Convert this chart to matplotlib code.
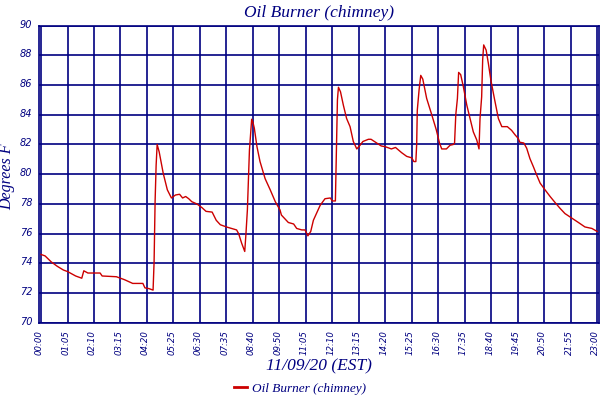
import matplotlib
matplotlib.use("Agg")
import matplotlib.pyplot as plt
import matplotlib.transforms as mtransforms
import numpy as np

NAVY = "#000080"
RED = "#cc0000"

# sample position (5 min samples) and temperature in degrees F
sample_pos = [
    0, 2, 5, 8, 11, 13, 17, 20, 21, 23, 29, 30, 37, 39, 41, 45, 50, 51, 53, 55,
    55.5, 56, 56.5, 57, 58, 60, 62, 64, 66, 68, 69.5, 71, 72.5, 74, 76.5, 79,
    81, 84, 86, 88, 91, 96, 97, 98.5, 100, 100.6, 101.3, 101.8, 102.3, 103,
    103.4, 104, 104.7, 106, 107.5, 110, 112.5, 115, 117.3, 118, 121.4, 124,
    125.5, 128, 129.6, 131, 132.4, 133.7, 137, 139.4, 142, 143, 144.5, 145,
    145.5, 146, 147, 148.4, 150, 151.7, 153.3, 155, 156.6, 158, 160.7, 162,
    164.8, 167, 169, 171, 172, 174, 177, 179.5, 182, 183, 184, 184.4, 184.7,
    185.6, 186.4, 187.4, 189.3, 191.8, 194, 195.6, 196.7, 199, 200.8, 202.4,
    203, 203.6, 204.4, 205, 206, 207.3, 209, 210.6, 212.2, 213.9, 215, 215.5,
    216.3, 216.8, 217.3, 218.5, 219.6, 220.8, 222.4, 224.5, 226.2, 228.9, 231,
    232.7, 234.3, 235, 237, 238.4, 240, 241.7, 243.3, 245, 247.4, 249.9, 252.3,
    254.8, 257.2, 260.5, 263.8, 267, 270.4, 273,
]
temps = [
    74.6, 74.5, 74.1, 73.8, 73.55, 73.45, 73.15, 73.0, 73.5, 73.35, 73.35,
    73.15, 73.1, 73.0, 72.9, 72.65, 72.65, 72.35, 72.3, 72.2,
    74.1, 78.2, 80.6, 82.0, 81.5, 80.05, 78.95, 78.4, 78.6, 78.65, 78.4, 78.5,
    78.35, 78.15, 78.0, 77.75, 77.5, 77.45, 76.9, 76.6, 76.45, 76.25, 76.0,
    75.35, 74.8, 76.0, 77.6, 79.6, 81.6, 83.0, 83.7, 83.5, 83.1, 81.85, 80.85,
    79.7, 78.95, 78.15, 77.6, 77.25, 76.75, 76.65, 76.35, 76.25, 76.25, 75.85,
    76.15, 76.9, 77.9, 78.35, 78.4, 78.2, 78.2, 81.6, 85.0, 85.85, 85.55,
    84.65, 83.75, 83.2, 82.2, 81.7, 81.95, 82.2, 82.35, 82.35, 82.1, 81.9,
    81.85, 81.75, 81.7, 81.8, 81.45, 81.2, 81.1, 80.85, 80.85, 82.0, 84.3,
    85.7, 86.65, 86.4, 85.1, 84.0, 83.0, 82.1, 81.7, 81.7, 81.95, 82.0, 82.1,
    84.0, 85.1, 86.85, 86.7, 85.9, 84.65, 83.75, 82.85, 82.3, 81.7, 83.75,
    85.2, 87.7, 88.7, 88.35, 87.45, 86.35, 85.2, 83.75, 83.2, 83.2, 82.95,
    82.65, 82.4, 82.15, 82.1, 81.75, 81.05, 80.5, 79.95, 79.4, 78.95, 78.5,
    78.1, 77.7, 77.35, 77.05, 76.75, 76.45, 76.35, 76.15,
]

tick_labels = [
    "00:00", "01:05", "02:10", "03:15", "04:20", "05:25", "06:30", "07:35",
    "08:40", "09:50", "11:05", "12:10", "13:15", "14:20", "15:25", "16:30",
    "17:35", "18:40", "19:45", "20:50", "21:55", "23:00",
]
y_ticks = [70, 72, 74, 76, 78, 80, 82, 84, 86, 88, 90]

title_font = {"family": "Liberation Serif", "style": "italic", "color": NAVY}
tick_font = {"family": "DejaVu Sans", "style": "italic", "color": NAVY}


def draw_chart():
    fig = plt.figure(figsize=(6, 4), dpi=100)
    ax = fig.add_axes([0.0655, 0.193, 0.9335, 0.743])

    line, = ax.plot(sample_pos, temps, color=RED, linewidth=1.0)

    # ticks every 13 samples (65 min)
    xt = np.arange(len(tick_labels)) * 13
    ax.set_xticks(xt)
    ax.set_xticklabels(tick_labels, rotation=90, fontsize=6.2, **tick_font)
    ax.set_yticks(y_ticks)
    ax.set_yticklabels([str(v) for v in y_ticks], fontsize=7, **tick_font)
    ax.tick_params(length=0, pad=5)
    ax.set_xlim(-0.85, 274.1)
    ax.set_ylim(70, 90)

    # small nudges: y labels a bit above their lines, x labels a bit left
    lift = mtransforms.ScaledTranslation(0, 2 / 100, fig.dpi_scale_trans)
    for lab in ax.get_yticklabels():
        lab.set_transform(lab.get_transform() + lift)
    nudge = mtransforms.ScaledTranslation(-1.5 / 100, 0, fig.dpi_scale_trans)
    for lab in ax.get_xticklabels():
        lab.set_transform(lab.get_transform() + nudge)

    ax.grid(True, color=NAVY, linewidth=1.2)
    ax.set_axisbelow(True)
    for sp in ax.spines.values():
        sp.set_color(NAVY)
        sp.set_linewidth(1.2)

    ax.set_title("Oil Burner (chimney)", fontsize=12.5, pad=6, **title_font)
    ax.set_ylabel("Degrees F", fontsize=11.5, **title_font)
    ax.yaxis.set_label_coords(-0.043, 0.49)
    ax.set_xlabel("11/09/20 (EST)", fontsize=12.5, labelpad=3, **title_font)

    leg = fig.legend([line], ["Oil Burner (chimney)"], loc="center",
                     bbox_to_anchor=(0.5, 0.028), frameon=False,
                     handlelength=1.0, handletextpad=0.4,
                     prop={"family": "Liberation Serif", "style": "italic",
                           "size": 9.5})
    for t in leg.get_texts():
        t.set_color(NAVY)
    leg.get_lines()[0].set_linewidth(2)

    fig.savefig("out.png", dpi=100)


if __name__ == "__main__":
    draw_chart()
